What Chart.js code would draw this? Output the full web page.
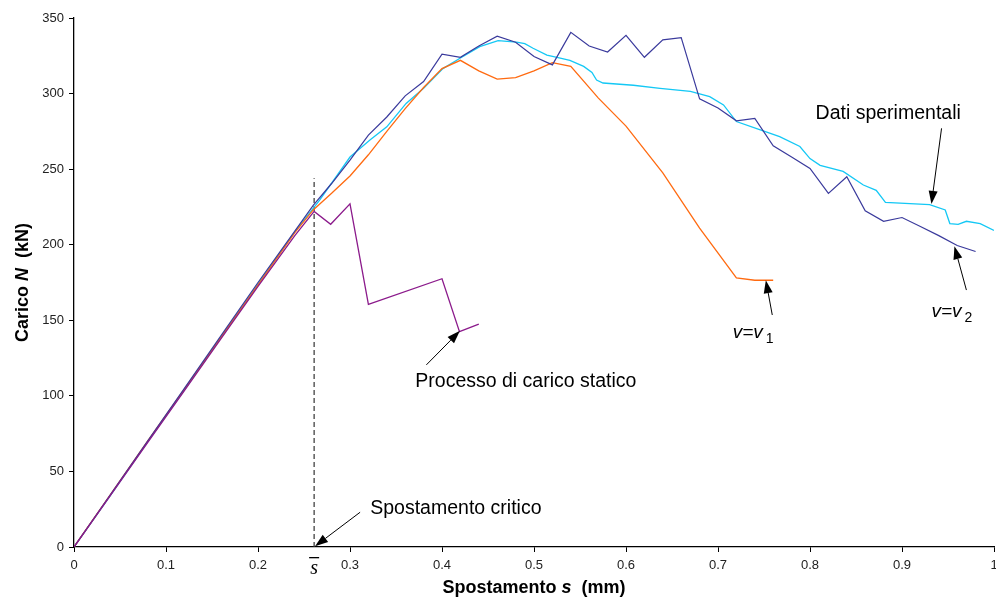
<!DOCTYPE html>
<html>
<head>
<meta charset="utf-8">
<script src="https://cdn.jsdelivr.net/npm/chart.js@4.4.0/dist/chart.umd.min.js"></script>
<style>
  body { margin: 0; background: #fff; }
  #wrap { width: 996px; height: 609px; position: relative; }
</style>
</head>
<body>
<div id="wrap"><canvas id="chart"></canvas></div>
<script>
// processo di carico statico
const sStatico = [0, 0.04, 0.08, 0.12, 0.16, 0.2, 0.24, 0.261, 0.279, 0.30, 0.32, 0.40, 0.419, 0.44];
const nStatico = [0, 34.5, 69, 103.5, 138, 172.5, 206, 222, 213.5, 227, 160.5, 177.5, 142.5, 147.5];

// v = v2
const sV2 = [0, 0.04, 0.08, 0.12, 0.16, 0.2, 0.24, 0.26, 0.28, 0.30, 0.32, 0.34, 0.36, 0.38, 0.40, 0.42, 0.44, 0.46, 0.48, 0.50,
  0.52, 0.54, 0.56, 0.58, 0.60, 0.62, 0.64, 0.66, 0.68, 0.70, 0.72, 0.74, 0.76, 0.78, 0.80, 0.82, 0.84, 0.86, 0.88, 0.90,
  0.92, 0.94, 0.96, 0.98];
const nV2 = [0, 35, 70, 105, 140, 175, 209, 226, 240.5, 256, 272.5, 284.5, 298.5, 308, 326, 324, 331.5, 338, 334, 324.5,
  319, 340.5, 331.5, 327.5, 338.5, 324, 335.5, 337, 296.5, 290.5, 282, 283.5, 265.5, 258, 250.5, 234, 245, 222.5, 215.5, 218,
  212, 206, 199.5, 195.5];

// v = v1
const sV1 = [0, 0.04, 0.08, 0.12, 0.16, 0.2, 0.24, 0.26, 0.28, 0.30, 0.32, 0.34, 0.36, 0.38, 0.40, 0.42, 0.44, 0.46, 0.48, 0.50,
  0.52, 0.54, 0.57, 0.60, 0.64, 0.68, 0.72, 0.74, 0.76];
const nV1 = [0, 35, 70, 104.5, 139, 173.5, 208, 223, 234, 245.5, 259.5, 275, 290, 304, 316.5, 322, 315, 309.5, 310.5, 315,
  320.5, 318, 297, 278.5, 247.5, 211, 178, 176.5, 176.5];

// dati sperimentali
const sSper = [0, 0.04, 0.08, 0.12, 0.16, 0.2, 0.24, 0.267, 0.30, 0.322, 0.34, 0.361, 0.38, 0.401, 0.42, 0.441, 0.461, 0.481,
  0.49, 0.499, 0.514, 0.525, 0.539, 0.554, 0.563, 0.568, 0.575, 0.608, 0.637, 0.67, 0.691, 0.706, 0.72, 0.746, 0.767, 0.789,
  0.80, 0.811, 0.836, 0.858, 0.872, 0.882, 0.93, 0.947, 0.952, 0.961, 0.97, 0.985, 1.0];
const nSper = [0, 34.5, 69.5, 104, 139, 174, 208.5, 229.5, 258, 269.5, 278, 293.5, 303.5, 316.5, 323.5, 331, 335, 334,
  333, 330, 325.5, 324, 322, 318, 314, 309, 307, 305.5, 303.5, 301.5, 298, 292.5, 281.5, 276, 271.5, 265,
  257, 252.5, 248.5, 239.5, 236, 228, 226.5, 223, 214, 213.5, 215.5, 214, 209.5];

// spostamento critico
const sCrit = 0.261;
const nCritTop = 244;

const xTicks = [0, 0.1, 0.2, 0.3, 0.4, 0.5, 0.6, 0.7, 0.8, 0.9, 1];
const yTicks = [0, 50, 100, 150, 200, 250, 300, 350];

const pts = (xs, ys) => xs.map((x, i) => ({ x, y: ys[i] }));
const FONT = "'Liberation Sans', Arial, sans-serif";

// annotations: text anchor and arrow (tail -> head) in data units
const notes = [
  { text: "Dati sperimentali", at: [0.885, 283], align: "center", arrow: [[0.943, 277], [0.932, 227]] },
  { text: "Processo di carico statico", at: [0.371, 106], align: "left", arrow: [[0.383, 120.5], [0.4195, 143]] },
  { text: "Spostamento critico", at: [0.322, 22], align: "left", arrow: [[0.311, 23], [0.262, 0.5]] },
  { sub: "2", at: [0.932, 152], align: "left", arrow: [[0.970, 170], [0.957, 199]] },
  { sub: "1", at: [0.716, 138], align: "left", arrow: [[0.759, 153.5], [0.752, 176.5]] }
];

function arrow(ctx, x1, y1, x2, y2) {
  const a = Math.atan2(y2 - y1, x2 - x1);
  const L = 13, W = 4.5;
  const bx = x2 - L * Math.cos(a), by = y2 - L * Math.sin(a);
  ctx.beginPath();
  ctx.moveTo(x1, y1);
  ctx.lineTo(bx, by);
  ctx.stroke();
  ctx.beginPath();
  ctx.moveTo(x2, y2);
  ctx.lineTo(bx + W * Math.sin(a), by - W * Math.cos(a));
  ctx.lineTo(bx - W * Math.sin(a), by + W * Math.cos(a));
  ctx.closePath();
  ctx.fill();
}

function mixed(ctx, parts, cx, cy) {
  let total = 0;
  parts.forEach(p => { ctx.font = p[1] + " 18px " + FONT; total += ctx.measureText(p[0]).width; });
  let cur = cx - total / 2;
  ctx.textAlign = "left";
  parts.forEach(p => { ctx.font = p[1] + " 18px " + FONT; ctx.fillText(p[0], cur, cy); cur += ctx.measureText(p[0]).width; });
}

const extras = {
  id: "extras",
  afterDraw(chart) {
    const { ctx, scales: { x, y }, chartArea } = chart;
    ctx.save();
    ctx.fillStyle = "#000";
    ctx.strokeStyle = "#000";
    ctx.lineWidth = 1;
    ctx.textBaseline = "alphabetic";

    notes.forEach(n => {
      const px = x.getPixelForValue(n.at[0]), py = y.getPixelForValue(n.at[1]);
      ctx.textAlign = n.align;
      if (n.text) {
        ctx.font = "19.5px " + FONT;
        ctx.fillText(n.text, px, py);
      } else {
        ctx.font = "italic 19px " + FONT;
        ctx.textAlign = "left";
        ctx.fillText("v=v", px, py);
        const w = ctx.measureText("v=v").width;
        ctx.font = "14px " + FONT;
        ctx.fillText(n.sub, px + w + 3, py + 5);
      }
      const [t, h] = n.arrow;
      arrow(ctx, x.getPixelForValue(t[0]), y.getPixelForValue(t[1]),
        x.getPixelForValue(h[0]), y.getPixelForValue(h[1]));
    });

    // s bar label under the axis
    const sx = x.getPixelForValue(sCrit);
    ctx.font = "italic 20px 'Liberation Serif', 'Times New Roman', serif";
    ctx.textAlign = "center";
    ctx.fillText("s", sx, chartArea.bottom + 27);
    ctx.fillRect(sx - 5, chartArea.bottom + 10, 10, 1.3);

    // axis titles
    mixed(ctx, [["Spostamento ", "bold"], ["s", "bold italic"], ["  (mm)", "bold"]],
      (chartArea.left + chartArea.right) / 2, 593);

    ctx.save();
    ctx.translate(28, (chartArea.top + chartArea.bottom) / 2);
    ctx.rotate(-Math.PI / 2);
    mixed(ctx, [["Carico ", "bold"], ["N", "bold italic"], ["  (kN)", "bold"]], 0, 0);
    ctx.restore();

    ctx.restore();
  }
};

const line = (data, color, w) => ({
  data, borderColor: color, backgroundColor: color, borderWidth: w || 1.3,
  showLine: true, pointRadius: 0, tension: 0, fill: false
});

new Chart(document.getElementById("chart"), {
  type: "scatter",
  data: {
    datasets: [
      line(pts(sStatico, nStatico), "#8b1a8b"),
      line(pts(sV2, nV2), "#3a3a9c", 1.2),
      line(pts(sV1, nV1), "#ff6a10"),
      line(pts(sSper, nSper), "#14c8f5"),
      Object.assign(line([{ x: sCrit, y: 0 }, { x: sCrit, y: nCritTop }], "#333", 1.2), { borderDash: [5, 3] })
    ]
  },
  options: {
    responsive: true,
    maintainAspectRatio: false,
    animation: false,
    layout: { padding: { top: 18, right: 2, left: 0, bottom: 0 } },
    plugins: { legend: { display: false }, tooltip: { enabled: false } },
    scales: {
      x: {
        type: "linear", min: 0, max: 1,
        afterBuildTicks: s => { s.ticks = xTicks.map(v => ({ value: v })); },
        afterFit: s => { s.height = 62; s.paddingLeft = 0; s.paddingRight = 0; },
        border: { color: "#000", width: 1.3 },
        grid: { drawOnChartArea: false, drawTicks: true, tickLength: 5, tickColor: "#000" },
        ticks: { color: "#222", font: { family: FONT, size: 13 }, padding: 6, maxRotation: 0,
          callback: v => String(Number(v.toFixed(2))) }
      },
      y: {
        type: "linear", min: 0, max: 350,
        afterBuildTicks: s => { s.ticks = yTicks.map(v => ({ value: v })); },
        afterFit: s => { s.width = 74; s.paddingTop = 0; s.paddingBottom = 0; },
        border: { color: "#000", width: 1.3 },
        grid: { drawOnChartArea: false, drawTicks: true, tickLength: 5, tickColor: "#000" },
        ticks: { color: "#222", font: { family: FONT, size: 13 }, padding: 5 }
      }
    }
  },
  plugins: [extras]
});
</script>
</body>
</html>
